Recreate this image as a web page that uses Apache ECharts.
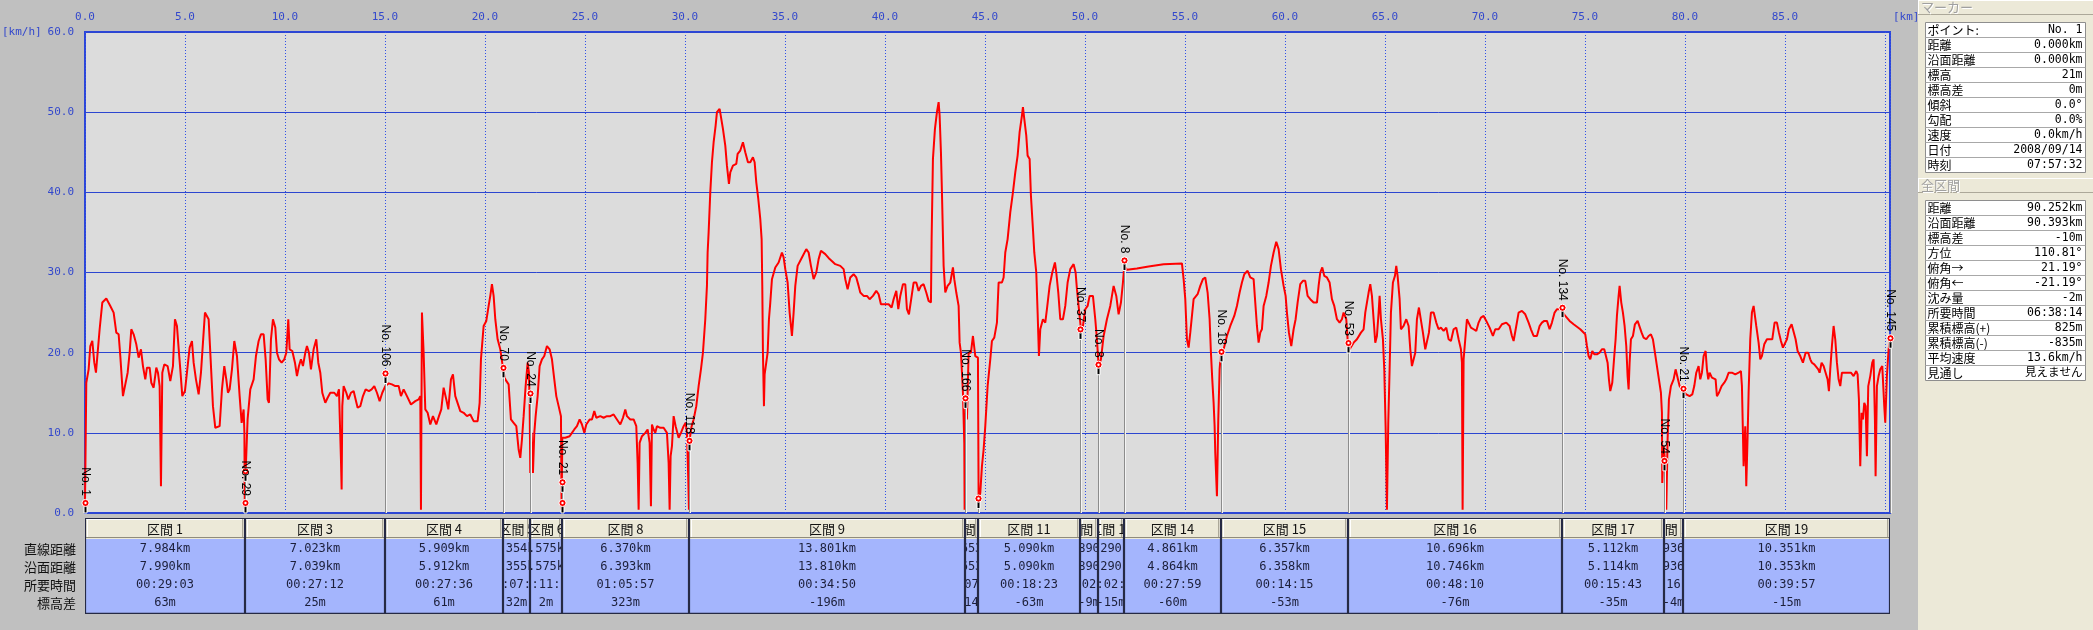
<!DOCTYPE html>
<html><head><meta charset="utf-8">
<script src="https://cdn.jsdelivr.net/npm/echarts@6/dist/echarts.min.js"></script>
<style>html,body{margin:0;padding:0;background:#c0c0c0;overflow:hidden}#c{width:2093px;height:630px}</style>
</head><body><div id="c"></div>
<script>
// ---------- DATA ----------
const KM_MAX = 90.252;
// speed trace [distance km, speed km/h]
const trackPoints = [
[0,1.25],[0.065,16.25],[0.182,17.92],[0.265,20.83],[0.365,21.46],[0.465,18.75],[0.548,17.5],[0.632,20],[0.732,22.92],[0.865,26.25],[1.065,26.75],[1.265,25.83],[1.432,25],[1.565,22.5],[1.682,22.29],[1.765,19.58],[1.898,14.58],[2.015,16.04],[2.132,17.5],[2.232,20],[2.315,22.92],[2.432,22.29],[2.565,21.04],[2.682,19.38],[2.798,20.42],[2.898,18.33],[3.015,16.67],[3.098,18.13],[3.232,18.13],[3.315,16.25],[3.432,15.63],[3.565,18.13],[3.648,17.5],[3.732,15.83],[3.798,3.33],[3.865,17.5],[3.965,18.54],[4.132,18.33],[4.265,16.46],[4.398,18.33],[4.498,24.17],[4.598,23.33],[4.698,20],[4.765,17.92],[4.865,14.58],[4.998,15.21],[5.098,15.42],[5.232,20.63],[5.348,21.46],[5.432,18.75],[5.548,16.67],[5.682,14.79],[5.798,17.5],[5.898,21.25],[5.998,25],[6.182,24.17],[6.265,20],[6.398,13.33],[6.515,10.63],[6.732,10.83],[6.848,15.42],[6.965,18.33],[7.065,16.67],[7.148,15],[7.232,15.42],[7.348,17.92],[7.465,21.46],[7.598,19.58],[7.732,14.58],[7.832,11.25],[7.932,12.92],[7.97,10],[7.99,0.5],[8.03,5],[8.13,11.67],[8.265,15.42],[8.432,16.67],[8.548,19.58],[8.682,21.46],[8.798,22.29],[8.932,22.29],[9.032,19.17],[9.132,14.17],[9.198,13.75],[9.298,21.67],[9.398,24.17],[9.515,23.13],[9.598,20],[9.698,19.17],[9.832,18.75],[9.965,19.17],[10.065,20],[10.165,24.17],[10.232,20.42],[10.365,20.21],[10.498,18.75],[10.598,17.08],[10.698,18.33],[10.798,19.17],[10.898,18.33],[11.015,20],[11.098,20.83],[11.198,20],[11.298,17.92],[11.432,20.42],[11.565,21.67],[11.665,18.75],[11.765,17.5],[11.865,15],[12.015,13.75],[12.132,14.38],[12.265,15],[12.465,15],[12.598,14.58],[12.698,15.42],[12.798,6.67],[12.832,2.92],[12.865,13.33],[12.932,15.83],[13.065,15],[13.165,14.17],[13.298,15],[13.432,15.21],[13.532,14.17],[13.632,13.13],[13.765,13.33],[13.898,14.58],[14.032,15.42],[14.198,15.21],[14.332,15.42],[14.465,15.83],[14.598,15],[14.732,13.96],[14.865,15],[15.015,15.83],[15.182,16.17],[15.348,16.04],[15.515,15.83],[15.682,15.83],[15.798,14.58],[15.932,15.42],[16.098,14.58],[16.298,13.54],[16.515,13.96],[16.682,14.17],[16.765,14.58],[16.798,0.42],[16.848,25],[16.932,20],[17.015,12.92],[17.132,12.5],[17.265,11.04],[17.398,12.08],[17.565,11.04],[17.698,12.08],[17.815,12.92],[17.932,15.63],[18.065,14.17],[18.165,12.92],[18.298,16.67],[18.398,17.29],[18.515,14.58],[18.682,13.33],
[18.765,12.71],[18.932,12.5],[19.098,12.08],[19.265,12.29],[19.432,11.46],[19.632,11.46],[19.732,13.75],[19.798,19.17],[19.932,23.33],[20.065,23.96],[20.182,25.83],[20.265,27.08],[20.348,28.54],[20.432,27.08],[20.515,24.17],[20.632,21.67],[20.765,20.42],[20.898,18.13],[21.015,16.67],[21.182,16.04],[21.298,11.67],[21.432,11.25],[21.565,10.83],[21.682,7.92],[21.765,6.88],[21.848,9.17],[21.932,12.08],[22.032,15.83],[22.132,18.75],[22.198,17.5],[22.232,13.75],[22.265,5],[22.332,10],[22.398,5],[22.465,10],[22.532,12.08],[22.632,14.58],[22.732,18.33],[22.848,19.17],[22.965,19.58],[23.098,20.83],[23.232,20.42],[23.348,19.17],[23.465,16.67],[23.565,14.58],[23.682,13.33],[23.798,12.08],[23.832,0.42],[23.865,9.38],[24.015,9.38],[24.232,9.58],[24.348,10],[24.465,10.42],[24.598,10.83],[24.732,11.67],[24.848,11.04],[24.965,10],[25.065,11.04],[25.232,11.67],[25.348,11.67],[25.465,12.71],[25.565,11.88],[25.765,12.08],[25.932,11.88],[26.098,12.08],[26.265,12.08],[26.432,12.29],[26.598,11.67],[26.765,11.04],[26.898,11.88],[27.015,12.92],[27.098,12.08],[27.265,11.67],[27.432,11.67],[27.565,10.83],[27.632,6.25],[27.682,0.42],[27.732,8.75],[27.848,9.58],[28.015,10],[28.132,10.42],[28.232,8.75],[28.298,0.83],[28.348,11.04],[28.432,10.42],[28.515,10],[28.598,10.83],[28.765,10.63],[28.932,10.63],[29.098,10],[29.182,6.25],[29.232,0.42],[29.282,7.08],[29.348,8.33],[29.432,12.08],[29.532,10.83],[29.682,9.38],[29.798,10],[29.932,10.83],[30.032,11.25],[30.098,10],[30.165,4.17],[30.198,0.42],[30.232,9.17],[30.332,10.83],[30.432,11.67],[30.565,13.33],[30.682,15.83],[30.798,17.92],[30.898,20],[31.015,24.17],[31.098,28.33],[31.132,32.5],[31.182,35],[31.265,40],[31.348,43.75],[31.432,46.25],[31.532,48.33],[31.598,50],[31.732,50.42],[31.798,50.63],[31.898,47.92],[32.015,45.83],[32.098,43.33],[32.198,41.04],[32.265,42.5],[32.398,43.33],[32.565,43.54],[32.632,44.79],[32.765,45.21],[32.898,46.25],[33.015,45],[33.148,43.75],[33.265,43.75],[33.398,44.38],[33.482,43.75],[33.565,41.25],[33.665,39.17],[33.765,36.67],[33.832,34.17],[33.865,28.33],[33.898,20],[33.948,13.33],[33.982,17.29],[34.065,17.29],[34.132,20],[34.198,24.17],[34.265,26.25],[34.348,29.17],[34.515,30.63],[34.682,31.25],[34.848,32.5],[34.932,31.88],[35.015,30.42],[35.132,28.75],[35.232,25],[35.348,22.08],[35.432,25],[35.515,28.33],[35.632,30.83],[35.848,31.88],[36.065,32.92],[36.182,32.5],[36.298,30.83],[36.432,29.17],[36.565,30],[36.682,31.67],[36.798,32.71],[37.015,32.29],[37.232,31.67],
[37.515,31.04],[37.765,30.83],[37.932,30.42],[38.015,29.17],[38.132,27.92],[38.265,29.38],[38.432,29.79],[38.565,29.38],[38.682,28.33],[38.765,27.5],[38.932,27.08],[39.098,27.08],[39.232,26.67],[39.398,27.08],[39.565,27.71],[39.682,27.29],[39.798,26.04],[39.965,26.04],[40.182,26.04],[40.332,25.63],[40.432,26.67],[40.565,27.71],[40.665,25.42],[40.765,27.08],[40.898,28.54],[41.015,28.54],[41.098,25.42],[41.198,24.79],[41.298,26.46],[41.432,28.75],[41.565,28.75],[41.682,27.71],[41.798,28.33],[41.932,28.54],[42.065,27.5],[42.182,26.46],[42.298,26.25],[42.332,34.17],[42.398,44.17],[42.498,47.92],[42.598,50],[42.682,51.25],[42.732,49.58],[42.798,45],[42.848,40],[42.932,30.83],[43.015,27.5],[43.132,28.33],[43.265,28.75],[43.398,30.63],[43.465,29.17],[43.565,27.5],[43.682,25.83],[43.732,21.25],[43.798,20],[43.898,15],[43.965,8.75],[43.982,0.42],[44.032,14.17],[44.098,11.67],[44.182,20],[44.298,20],[44.398,22.08],[44.465,22.29],[44.515,19.58],[44.648,19.38],[44.682,1.67],[44.765,2.5],[44.848,5.83],[44.932,7.92],[45.015,10.83],[45.132,15.83],[45.265,19.17],[45.348,21.46],[45.465,21.88],[45.598,23.75],[45.682,28.75],[45.848,28.75],[45.932,29.38],[46.015,32.5],[46.132,34.17],[46.265,37.5],[46.398,40],[46.515,42.5],[46.632,44.58],[46.732,47.5],[46.848,49.58],[46.898,50.63],[46.965,49.17],[47.065,47.08],[47.132,44.58],[47.232,44.17],[47.298,39.58],[47.398,35.42],[47.465,32.5],[47.565,30],[47.632,25],[47.698,19.58],[47.765,22.92],[47.898,24.17],[48.015,23.75],[48.098,25.42],[48.232,28.33],[48.365,30],[48.498,31.25],[48.565,30],[48.665,27.5],[48.765,24.17],[48.898,24.17],[49.015,25.83],[49.132,28.75],[49.265,30.42],[49.432,31.04],[49.532,30],[49.598,27.92],[49.698,25.42],[49.798,22.92],[49.898,23.33],[50.015,25.42],[50.132,25.83],[50.232,27.08],[50.398,27.08],[50.515,24.17],[50.598,21.67],[50.682,18.33],[50.798,19.17],[50.932,22.08],[51.098,24.17],[51.265,25.83],[51.432,28.33],[51.565,27.08],[51.682,24.79],[51.798,26.25],[51.898,28.75],[51.965,30.83],[52.098,30.33],[52.598,30.5],[53.182,30.75],[53.932,31.04],[54.848,31.13],[54.932,29.17],[55.015,26.67],[55.098,21.67],[55.182,20.63],[55.265,22.5],
[55.432,26.67],[55.632,27.29],[55.765,28.33],[55.898,29.17],[56.015,29.38],[56.132,27.5],[56.232,24.17],[56.298,20],[56.365,16.67],[56.432,13.75],[56.482,10.83],[56.515,7.5],[56.598,2.08],[56.665,11.67],[56.732,17.92],[56.798,20],[56.932,20.42],[57.098,22.08],[57.265,23.33],[57.465,24.58],[57.598,25.83],[57.732,27.5],[57.848,28.75],[57.965,29.79],[58.132,30.21],[58.265,29.38],[58.432,29.17],[58.515,26.25],[58.598,23.33],[58.682,21.25],[58.765,22.5],[58.848,22.92],[58.932,25.83],[59.065,27.08],[59.182,28.75],[59.298,30.83],[59.432,32.5],[59.565,33.83],[59.682,32.92],[59.798,30.42],[59.932,28.33],[60.032,27.08],[60.098,25],[60.198,22.5],[60.315,20.83],[60.432,22.92],[60.532,24.17],[60.632,26.25],[60.765,28.54],[60.898,28.96],[61.015,28.96],[61.132,27.08],[61.265,26.67],[61.432,26.25],[61.598,26.25],[61.682,28.33],[61.765,30],[61.865,30.63],[61.965,29.58],[62.098,29.38],[62.232,28.75],[62.348,26.67],[62.465,25.83],[62.598,24.17],[62.732,23.75],[62.848,24.17],[62.932,25],[63.065,24.17],[63.132,21.67],[63.232,20.42],[63.432,21.25],[63.598,21.67],[63.798,22.5],[63.932,22.92],[64.015,25],[64.098,26.25],[64.182,27.5],[64.265,28.54],[64.348,27.08],[64.432,24.17],[64.515,21.25],[64.598,22.08],[64.682,25],[64.732,27.08],[64.798,24.17],[64.898,21.67],[64.965,17.92],[65.032,10.83],[65.098,0.42],[65.165,11.25],[65.232,17.92],[65.298,25],[65.398,28.75],[65.498,29.58],[65.565,30.83],[65.632,29.58],[65.732,26.67],[65.798,22.92],[65.932,23.33],[66.065,24.17],[66.182,23.33],[66.265,20.42],[66.348,18.33],[66.432,18.13],[66.515,20],[66.598,24.17],[66.698,25.63],[66.798,25.42],[66.898,22.5],[67.015,20.42],[67.098,20.21],[67.198,22.5],[67.298,25],[67.432,25],[67.565,23.75],[67.682,22.92],[67.798,23.13],[67.932,22.71],[68.065,23.13],[68.182,21.67],[68.298,21.46],[68.432,22.92],[68.565,23.13],[68.682,21.67],[68.798,20.42],[68.848,18.75],[68.882,0.42],[68.932,19.17],[69.015,21.67],[69.098,24.17],[69.182,23.96],[69.298,23.13],[69.432,22.92],[69.565,22.71],[69.682,23.75],[69.798,24.38],[69.932,24.58],[70.065,23.96],[70.232,23.13],[70.398,22.08],[70.515,22.92],[70.682,22.92],[70.848,23.54],[71.065,23.75],[71.232,23.33],[71.348,22.08],[71.432,21.46],[71.565,23.33],[71.682,25],[71.848,25.21],[72.015,24.79],[72.182,23.75],[72.298,22.92],[72.432,22.08],[72.598,22.08],[72.732,23.33],[72.848,23.75],[72.965,23.96],[73.098,23.96],[73.232,22.92],[73.348,23.75],[73.482,25],[73.598,25.42],[73.798,25.42],[74.015,24.58],[74.232,23.96],
[74.432,23.54],[74.765,22.92],[75.015,22.29],[75.098,20.83],[75.182,19.58],[75.265,19.17],[75.365,20.21],[75.465,19.79],[75.598,19.79],[75.732,20],[75.848,20.42],[75.965,20.42],[76.065,20.42],[76.132,18.75],[76.198,16.67],[76.265,15.21],[76.365,16.25],[76.465,19.58],[76.532,21.67],[76.598,24.58],[76.682,27.08],[76.732,28.33],[76.815,26.25],[76.898,25],[76.982,23.33],[77.065,20.83],[77.132,17.08],[77.182,15.42],[77.232,18.75],[77.298,21.67],[77.398,22.08],[77.498,23.54],[77.632,23.96],[77.732,23.75],[77.832,22.5],[77.932,21.88],[78.065,21.67],[78.182,22.08],[78.298,22.29],[78.398,21.67],[78.498,20],[78.598,18.33],[78.698,16.67],[78.798,15],[78.848,12.5],[78.865,3.75],[78.932,8.33],[79.015,6.25],[79.065,0.42],[79.132,9.17],[79.198,14.17],[79.298,15.83],[79.432,16.67],[79.532,17.92],[79.632,16.88],[79.732,15.83],[79.832,15.42],[79.932,15.42],[80.065,14.79],[80.232,14.58],[80.365,14.79],[80.465,15.83],[80.565,17.5],[80.682,18.33],[80.765,16.67],[80.848,17.5],[80.932,19.58],[81.032,20.21],[81.098,17.92],[81.165,16.67],[81.232,17.5],[81.348,16.88],[81.432,17.08],[81.532,16.67],[81.598,14.58],[81.698,15],[81.832,15.83],[81.965,16.25],[82.065,16.67],[82.182,17.5],[82.348,17.5],[82.515,17.29],[82.682,17.5],[82.798,17.71],[82.848,15.83],[82.898,10],[82.932,5.83],[83.015,10.83],[83.065,3.33],[83.132,9.58],[83.182,15],[83.265,21.67],[83.348,25],[83.432,25.83],[83.498,26.04],[83.565,23.33],[83.682,21.25],[83.765,19.17],[83.848,19.58],[83.965,21.04],[84.098,21.67],[84.232,21.67],[84.365,21.67],[84.482,23.75],[84.598,23.75],[84.698,22.5],[84.798,21.46],[84.898,20.63],[84.998,20.63],[85.098,21.67],[85.198,22.92],[85.332,23.54],[85.432,23.33],[85.532,21.67],[85.632,20.21],[85.765,19.58],[85.898,18.75],[86.032,20],[86.165,20],[86.265,19.17],[86.348,18.75],[86.465,18.54],[86.565,18.75],[86.665,17.92],[86.732,17.5],[86.832,18.75],[86.932,18.33],[87.032,17.5],[87.132,16.67],[87.198,15.21],[87.265,17.92],[87.348,20.83],[87.432,23.33],[87.515,21.67],[87.598,18.75],[87.682,16.67],[87.765,15.83],[87.848,17.5],[87.965,17.5],[88.132,17.5],[88.298,17.5],[88.432,17.08],[88.565,17.71],[88.632,17.29],[88.698,14.17],[88.765,5.83],[88.832,12.5],[88.898,11.67],[88.965,13.75],[89.032,13.33],[89.098,7.08],[89.165,15.83],[89.265,17.08],[89.365,18.75],[89.432,19.17],[89.498,11.67],[89.532,4.58],[89.598,15.83],[89.682,17.08],[89.765,17.92],[89.865,18.33],[89.965,13.33],[90.015,11.25],[90.098,17.08],[90.182,20.42],[90.252,21.67]
];
// markers (points) on the trace
const markerKm    = [0, 7.984, 7.984, 15.007, 20.916, 22.270, 23.845, 23.845, 30.215, 44.016, 44.669, 49.759, 50.649, 51.939, 56.800, 63.157, 73.853, 78.965, 79.901, 90.252];
const markerSpeed = [1.25, 5.2, 1.25, 17.4, 18.1, 14.9, 3.83, 1.25, 9.0, 14.3, 1.8, 22.9, 18.5, 31.5, 20.1, 21.2, 25.6, 6.5, 15.5, 21.8];
const markerNames = ['No. 1', '', 'No. 29', 'No. 106', 'No. 70', 'No. 24', 'No. 21', '', 'No. 118', 'No. 166', '', 'No. 37', 'No. 8', 'No. 8', 'No. 18', 'No. 53', 'No. 134', 'No. 54', 'No. 21', 'No. 145'];
// section table
const sectionNames   = ['区間 1','区間 3','区間 4','区間 5','区間 6','区間 8','区間 9','区間 10','区間 11','区間 12','区間 13','区間 14','区間 15','区間 16','区間 17','区間 18','区間 19'];
const sectionStartKm = [0, 7.984, 15.007, 20.916, 22.270, 23.845, 30.215, 44.016, 44.669, 49.759, 50.649, 51.939, 56.800, 63.157, 73.853, 78.965, 79.901];
const sectionEndKm   = [7.984, 15.007, 20.916, 22.270, 23.845, 30.215, 44.016, 44.669, 49.759, 50.649, 51.939, 56.800, 63.157, 73.853, 78.965, 79.901, 90.252];
const straightDist = ['7.984km','7.023km','5.909km','1.354km','1.575km','6.370km','13.801km','0.653km','5.090km','0.890km','1.290km','4.861km','6.357km','10.696km','5.112km','0.936km','10.351km'];
const surfaceDist  = ['7.990km','7.039km','5.912km','1.355km','1.575km','6.393km','13.810km','0.653km','5.090km','0.890km','1.290km','4.864km','6.358km','10.746km','5.114km','0.936km','10.353km'];
const travelTime   = ['00:29:03','00:27:12','00:27:36','00:07:05','00:11:02','01:05:57','00:34:50','00:07:14','00:18:23','00:02:30','00:02:55','00:27:59','00:14:15','00:48:10','00:15:43','00:16:20','00:39:57'];
const elevDiff     = ['63m','25m','61m','32m','2m','323m','-196m','-14m','-63m','-9m','-15m','-60m','-53m','-76m','-35m','-4m','-15m'];
const rowLabels = ['直線距離','沿面距離','所要時間','標高差'];
// side panel
const markerInfoLabels = ['ポイント:','距離','沿面距離','標高','標高差','傾斜','勾配','速度','日付','時刻'];
const markerInfoValues = ['No. 1','0.000km','0.000km','21m','0m','0.0°','0.0%','0.0km/h','2008/09/14','07:57:32'];
const totalLabels = ['距離','沿面距離','標高差','方位','俯角→','俯角←','沈み量','所要時間','累積標高(+)','累積標高(-)','平均速度','見通し'];
const totalValues = ['90.252km','90.393km','-10m','110.81°','21.19°','-21.19°','-2m','06:38:14','825m','-835m','13.6km/h','見えません'];

// ---------- CHART ----------
const MONO = '"DejaVu Sans Mono", "Noto Sans CJK JP", monospace';
const CJK = '"Noto Sans CJK JP", sans-serif';
const BLUE_TXT = '#3348cc';
const chart = echarts.init(document.getElementById('c'), null, {renderer:'canvas'});

function tableItem(params, api) {
  const i = api.value(2);
  const x0 = Math.round(api.coord([api.value(0), 0])[0]);
  const x1 = Math.round(api.coord([api.value(1), 0])[0]);
  const cs = params.coordSys;
  const top = cs.y, H = cs.height, hh = 21, w = x1 - x0;
  const rowsY = [31, 49, 67, 85];
  const vals = [straightDist[i], surfaceDist[i], travelTime[i], elevDiff[i]];
  const ch = [
    {type:'rect', shape:{x:x0, y:top, width:w, height:hh}, style:{fill:'#ece9d8'}},
    {type:'line', shape:{x1:x0+1, y1:top+1.5, x2:x1-1, y2:top+1.5}, style:{stroke:'#ffffff', lineWidth:1}},
    {type:'line', shape:{x1:x0+2.5, y1:top+1, x2:x0+2.5, y2:top+hh-2}, style:{stroke:'#ffffff', lineWidth:1}},
    {type:'line', shape:{x1:x1-2.5, y1:top+1, x2:x1-2.5, y2:top+hh-1}, style:{stroke:'#aca899', lineWidth:1}},
    {type:'line', shape:{x1:x0+1, y1:top+hh-1.5, x2:x1-1, y2:top+hh-1.5}, style:{stroke:'#8f8c7c', lineWidth:1}},
    {type:'rect', shape:{x:x0, y:top+hh, width:w, height:H-hh}, style:{fill:'#a4b5fd'}},
    {type:'text', x:(x0+x1)/2, y:top+hh/2+1, style:{text:sectionNames[i], align:'center', verticalAlign:'middle', font:'13px ' + CJK, fill:'#111111'}}
  ];
  vals.forEach((v, r) => ch.push({type:'text', x:(x0+x1)/2, y:top+rowsY[r], style:{text:v, align:'center', verticalAlign:'middle', font:'12px ' + MONO, fill:'#1c1f3a'}}));
  ch.push({type:'line', shape:{x1:x0+0.5, y1:top, x2:x0+0.5, y2:top+H}, style:{stroke:'#262a44', lineWidth:1.2}});
  ch.push({type:'line', shape:{x1:x1-0.5, y1:top, x2:x1-0.5, y2:top+H}, style:{stroke:'#262a44', lineWidth:1.2}});
  ch.push({type:'line', shape:{x1:x0, y1:top+H-0.5, x2:x1, y2:top+H-0.5}, style:{stroke:'#262a44', lineWidth:1.5}});
  ch.push({type:'line', shape:{x1:x0, y1:top+0.5, x2:x1, y2:top+0.5}, style:{stroke:'#262a44', lineWidth:1}});
  return {type:'group', children:ch, clipPath:{type:'rect', shape:{x:x0, y:top, width:w, height:H}}};
}

function markerItem(params, api) {
  const i = api.value(2);
  const p = api.coord([api.value(0), api.value(1)]);
  const bottom = api.coord([0, 0])[1];
  const x = Math.round(p[0]) + 0.5, y = p[1];
  const ch = [
    {type:'line', shape:{x1:x, y1:y, x2:x, y2:bottom}, style:{stroke:'#8c8c8c', lineWidth:1}},
    {type:'line', shape:{x1:x+1, y1:y+10, x2:x+1, y2:bottom}, style:{stroke:'#f4f4f4', lineWidth:1}},
    {type:'rect', shape:{x:x-1.5, y:y, width:3, height:10}, style:{fill:'#000000', stroke:'#ffffff', lineWidth:1}},
    {type:'circle', shape:{cx:x, cy:y, r:3.6}, style:{fill:'#ff0000', stroke:'#ffffff', lineWidth:1}},
    {type:'circle', shape:{cx:x, cy:y, r:1.2}, style:{fill:'#ffffff'}}
  ];
  if (markerNames[i]) {
    ch.push({type:'text', x:x, y:y-7, rotation:-Math.PI/2,
      style:{text:markerNames[i], align:'right', verticalAlign:'middle', font:'12px "Liberation Sans", Arial, sans-serif', fill:'#000000'}});
  }
  return {type:'group', children:ch};
}

// side panel graphics
const graphics = [];
function txt(x, y, text, font, fill, align, vAlign) {
  graphics.push({type:'text', x:x, y:y, z:10, style:{text:text, font:font, fill:fill, align:align||'left', verticalAlign:vAlign||'middle'}});
}
function rect(x, y, w, h, fill, stroke, lw) {
  graphics.push({type:'rect', z:9, shape:{x:x, y:y, width:w, height:h}, style:{fill:fill, stroke:stroke||null, lineWidth:lw||1}});
}
function line(x1, y1, x2, y2, stroke, lw) {
  graphics.push({type:'line', z:10, shape:{x1:x1, y1:y1, x2:x2, y2:y2}, style:{stroke:stroke, lineWidth:lw||1}});
}
rect(1918, 0, 175, 630, '#ece9d8');
function headerBar(y, label) {
  rect(1918, y, 175, 15, '#ece9d8');
  line(1918, y+0.5, 2093, y+0.5, '#ffffff');
  line(1918.5, y, 1918.5, y+15, '#ffffff');
  line(1918, y+14.5, 2093, y+14.5, '#aca899');
  txt(1922, y+8.5, label, '13px ' + CJK, '#ffffff');
  txt(1921, y+7.5, label, '13px ' + CJK, '#a0a0a0');
}
function infoTable(top, labels, values) {
  const rh = 15, left = 1925.5, w = 160;
  rect(left, top + 0.5, w, rh * labels.length, '#ffffff', '#8e8e8e', 1);
  labels.forEach((l, k) => {
    const y = top + k * rh;
    if (k > 0) line(left, y + 0.5, left + w, y + 0.5, '#a8a8a8');
    txt(left + 2, y + rh/2 + 1, l, '12px ' + CJK, '#000000');
    txt(left + w - 3, y + rh/2 + 1, values[k], '11.5px ' + MONO, '#000000', 'right');
  });
}
headerBar(0, 'マーカー');
infoTable(22, markerInfoLabels, markerInfoValues);
headerBar(178, '全区間');
infoTable(200, totalLabels, totalValues);
// axis unit labels & table row labels
txt(2, 32, '[km/h]', '11px ' + MONO, BLUE_TXT);
txt(1893, 17, '[km]', '11px ' + MONO, BLUE_TXT);
rowLabels.forEach((l, r) => txt(76, 518 + [31, 49, 67, 85][r], l, '13px ' + CJK, '#111111', 'right'));

const option = {
  backgroundColor: '#c0c0c0',
  animation: false,
  grid: [
    {left:85, top:32, width:1805, height:481, show:true, backgroundColor:'#dcdcdc', borderColor:'#2c46d8', borderWidth:2},
    {left:85, top:518, width:1805, height:96, show:false}
  ],
  xAxis: [
    {type:'value', gridIndex:0, position:'top', min:0, max:KM_MAX, interval:5,
     axisLine:{show:false}, axisTick:{show:false},
     axisLabel:{color:BLUE_TXT, fontFamily:MONO, fontSize:11, margin:9, formatter: v => v > 88 ? '' : v.toFixed(1)},
     splitLine:{show:true, lineStyle:{color:'#3050e8', width:1, type:[1,2]}}},
    {type:'value', gridIndex:1, min:0, max:KM_MAX, show:false}
  ],
  yAxis: [
    {type:'value', gridIndex:0, min:0, max:60, interval:10,
     axisLine:{show:false}, axisTick:{show:false},
     axisLabel:{color:BLUE_TXT, fontFamily:MONO, fontSize:11, margin:11, formatter: v => v.toFixed(1)},
     splitLine:{show:true, lineStyle:{color:'#2c46d0', width:1}}},
    {type:'value', gridIndex:1, min:0, max:1, show:false}
  ],
  graphic: graphics,
  series: [
    {type:'line', name:'速度', xAxisIndex:0, yAxisIndex:0, data:trackPoints, showSymbol:false, symbol:'none',
     lineStyle:{color:'#ff0000', width:2}, z:3},
    {type:'custom', name:'マーカー', xAxisIndex:0, yAxisIndex:0, z:4,
     data: markerKm.map((k, i) => [k, markerSpeed[i], i]), encode:{x:0, y:1}, renderItem: markerItem},
    {type:'custom', name:'区間', xAxisIndex:1, yAxisIndex:1, z:4,
     data: sectionStartKm.map((s, i) => [s, sectionEndKm[i], i]), encode:{x:[0,1]}, renderItem: tableItem}
  ]
};
chart.setOption(option);
</script></body></html>
